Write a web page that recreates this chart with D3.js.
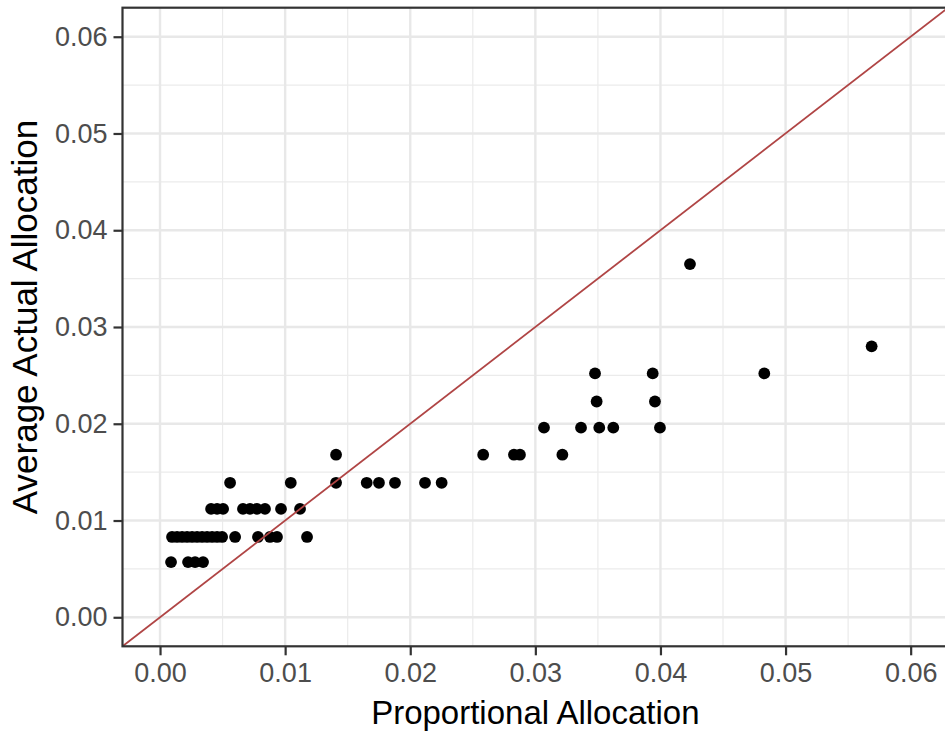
<!DOCTYPE html>
<html>
<head>
<meta charset="utf-8">
<script src="https://cdn.jsdelivr.net/npm/d3@7"></script>
<style>
  body { margin: 0; background: #fff; }
  text { font-family: "Liberation Sans", Arial, sans-serif; }
</style>
</head>
<body>
<div id="wrapper"></div>
<script>
// proportional allocation (x) and average actual allocation (y)
const propAlloc = [
  0.00088, 0.00224, 0.0028, 0.00344,
  0.00096, 0.00136, 0.00176, 0.00216, 0.00256, 0.00296, 0.00336, 0.00376, 0.00416, 0.00456, 0.00496,
  0.0060, 0.00783, 0.00879, 0.00935, 0.01175,
  0.00408, 0.00456, 0.00504, 0.00663, 0.00719, 0.00775, 0.00839, 0.00967, 0.01119,
  0.0056, 0.01045, 0.01407, 0.01652, 0.0175, 0.01878, 0.02118, 0.02251,
  0.01407, 0.02583, 0.02829, 0.02877, 0.03216,
  0.03069, 0.03365, 0.03511, 0.03623, 0.03996,
  0.0349, 0.03956,
  0.03477, 0.03938, 0.0483,
  0.05688,
  0.04236
];
const actualAlloc = [
  0.0057, 0.0057, 0.0057, 0.0057,
  0.0083, 0.0083, 0.0083, 0.0083, 0.0083, 0.0083, 0.0083, 0.0083, 0.0083, 0.0083, 0.0083,
  0.0083, 0.0083, 0.0083, 0.0083, 0.0083,
  0.0112, 0.0112, 0.0112, 0.0112, 0.0112, 0.0112, 0.0112, 0.0112, 0.0112,
  0.0139, 0.0139, 0.0139, 0.0139, 0.0139, 0.0139, 0.0139, 0.0139,
  0.0168, 0.0168, 0.0168, 0.0168, 0.0168,
  0.0196, 0.0196, 0.0196, 0.0196, 0.0196,
  0.0223, 0.0223,
  0.0252, 0.0252, 0.0252,
  0.0280,
  0.0365
];
const tickValues = [0, 0.01, 0.02, 0.03, 0.04, 0.05, 0.06];
const minorValues = [0.005, 0.015, 0.025, 0.035, 0.045, 0.055];
const axisLimits = [-0.003, 0.063];

const data = propAlloc.map((x, i) => ({ x, y: actualAlloc[i] }));

const dimension = {
  width: 945,
  height: 733,
  left: 122.5,
  right: 948.2,
  top: 7.7,
  bottom: 646.3
};

const x = d3.scaleLinear().domain(axisLimits).range([dimension.left, dimension.right]);
const y = d3.scaleLinear().domain(axisLimits).range([dimension.bottom, dimension.top]);

const svg = d3.select("#wrapper")
  .append("svg")
  .attr("width", dimension.width)
  .attr("height", dimension.height)
  .style("display", "block");

svg.append("rect")
  .attr("width", dimension.width)
  .attr("height", dimension.height)
  .attr("fill", "#fff");

svg.append("clipPath").attr("id", "panel")
  .append("rect")
  .attr("x", dimension.left)
  .attr("y", dimension.top)
  .attr("width", dimension.right - dimension.left)
  .attr("height", dimension.bottom - dimension.top);

const panel = svg.append("g").attr("clip-path", "url(#panel)");

// minor grid
panel.selectAll(".minor-x").data(minorValues).enter().append("line")
  .attr("x1", d => x(d)).attr("x2", d => x(d))
  .attr("y1", dimension.top).attr("y2", dimension.bottom)
  .attr("stroke", "#ebebeb").attr("stroke-width", 1.2);
panel.selectAll(".minor-y").data(minorValues).enter().append("line")
  .attr("y1", d => y(d)).attr("y2", d => y(d))
  .attr("x1", dimension.left).attr("x2", dimension.right)
  .attr("stroke", "#ebebeb").attr("stroke-width", 1.2);

// major grid
panel.selectAll(".major-x").data(tickValues).enter().append("line")
  .attr("x1", d => x(d)).attr("x2", d => x(d))
  .attr("y1", dimension.top).attr("y2", dimension.bottom)
  .attr("stroke", "#e8e8e8").attr("stroke-width", 2.4);
panel.selectAll(".major-y").data(tickValues).enter().append("line")
  .attr("y1", d => y(d)).attr("y2", d => y(d))
  .attr("x1", dimension.left).attr("x2", dimension.right)
  .attr("stroke", "#e8e8e8").attr("stroke-width", 2.4);

// points
panel.selectAll("circle").data(data).enter().append("circle")
  .attr("cx", d => x(d.x))
  .attr("cy", d => y(d.y))
  .attr("r", 5.9)
  .attr("fill", "#000");

// y = x reference line
panel.append("path")
  .datum(axisLimits)
  .attr("d", d3.line().x(d => x(d)).y(d => y(d)))
  .attr("fill", "none")
  .attr("stroke", "#b04545")
  .attr("stroke-width", 1.8);

// panel border
svg.append("rect")
  .attr("x", dimension.left)
  .attr("y", dimension.top)
  .attr("width", dimension.right - dimension.left)
  .attr("height", dimension.bottom - dimension.top)
  .attr("fill", "none")
  .attr("stroke", "#333")
  .attr("stroke-width", 2.2);

// axes
const fmt = d3.format(".2f");

const xAxis = svg.append("g")
  .attr("transform", `translate(0,${dimension.bottom})`)
  .call(d3.axisBottom(x).tickValues(tickValues).tickFormat(fmt).tickSize(9).tickPadding(8));
const yAxis = svg.append("g")
  .attr("transform", `translate(${dimension.left},0)`)
  .call(d3.axisLeft(y).tickValues(tickValues).tickFormat(fmt).tickSize(9).tickPadding(6));

[xAxis, yAxis].forEach(a => {
  a.select(".domain").remove();
  a.selectAll(".tick line").attr("stroke", "#333").attr("stroke-width", 2.2);
  a.selectAll(".tick text")
    .attr("fill", "#4d4d4d")
    .style("font-size", "27px")
    .style("font-family", "'Liberation Sans', Arial, sans-serif");
});

svg.append("text")
  .attr("x", (dimension.left + dimension.right) / 2)
  .attr("y", 724)
  .attr("text-anchor", "middle")
  .style("font-size", "33px")
  .attr("fill", "#000")
  .text("Proportional Allocation");

svg.append("text")
  .attr("transform", `translate(37,${317}) rotate(-90)`)
  .attr("text-anchor", "middle")
  .style("font-size", "35px")
  .attr("fill", "#000")
  .text("Average Actual Allocation");
</script>
</body>
</html>
